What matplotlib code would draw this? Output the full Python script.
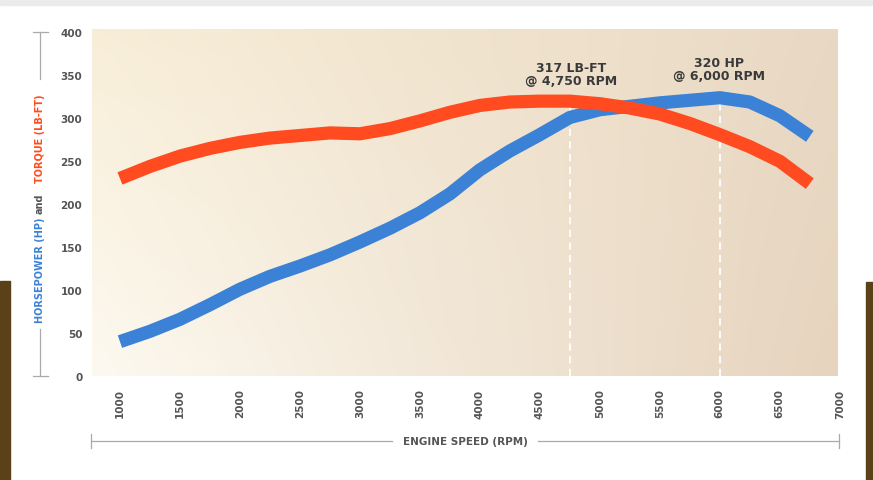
import matplotlib
matplotlib.use("Agg")
import matplotlib.pyplot as plt
import numpy as np
from matplotlib.patches import Rectangle
from matplotlib.lines import Line2D

# engine curve values
rpm = [1000, 1250, 1500, 1750, 2000, 2250, 2500, 2750, 3000, 3250, 3500, 3750,
       4000, 4250, 4500, 4750, 5000, 5250, 5500, 5750, 6000, 6250, 6500, 6750]
horsepower = [40, 52, 66, 83, 101, 116, 128, 141, 156, 172, 190, 212,
              240, 262, 281, 301, 310, 314, 318, 321, 324, 319, 303, 279]
torque = [230, 244, 256, 265, 272, 277, 280, 283, 282, 288, 297, 307,
          315, 319, 320, 320, 317, 312, 305, 294, 281, 267, 250, 224]

x_ticks = [1000, 1500, 2000, 2500, 3000, 3500, 4000, 4500, 5000, 5500, 6000, 6500, 7000]
y_ticks = [0, 50, 100, 150, 200, 250, 300, 350, 400]

peak_torque = (4750, 317, "317 LB-FT\n@ 4,750 RPM")
peak_hp = (6000, 320, "320 HP\n@ 6,000 RPM")

BLUE = "#3b82d6"
RED = "#ff4b1f"
GREY = "#555555"

W, H = 873, 481
fig = plt.figure(figsize=(W / 100, H / 100), dpi=100)
fig.patch.set_facecolor("white")


def fx(px):
    return px / W


def fy(py):
    return 1 - py / H


# photo strips peeking out at the sides, and a faint shadow on top
fig.patches.append(Rectangle((0, 0), fx(10), fy(282), transform=fig.transFigure,
                             color="#5a4119", zorder=0))
fig.patches.append(Rectangle((fx(866), 0), fx(7), fy(283), transform=fig.transFigure,
                             color="#5a4119", zorder=0))
fig.patches.append(Rectangle((0, fy(6)), 1, 6 / H, transform=fig.transFigure,
                             color="#ebebeb", zorder=0))

ax = fig.add_axes([fx(92), fy(377), fx(841 - 92), (377 - 30) / H])
x0, x1 = 767, 7010

# soft cream-to-tan background (row 0 = top)
tl = np.array([0xf8, 0xee, 0xd8]) / 255
bl = np.array([0xfd, 0xf9, 0xf0]) / 255
tr = np.array([0xe9, 0xd9, 0xc4]) / 255
br = np.array([0xe6, 0xd4, 0xbe]) / 255
u = np.linspace(0, 1, 60)[None, :, None]
v = np.linspace(0, 1, 40)[:, None, None]
grad = (1 - v) * ((1 - u) * tl + u * tr) + v * ((1 - u) * bl + u * br)
ax.imshow(grad, extent=(x0, 6983, 0, 404), origin="upper", aspect="auto",
          interpolation="bicubic", zorder=0)
ax.set_xlim(x0, x1)
ax.set_ylim(0, 404)

for s in ax.spines.values():
    s.set_visible(False)

# dashed markers at the peaks
for px, py, _ in (peak_torque, peak_hp):
    ax.plot([px, px], [0, py], color="white", lw=1.3, ls=(0, (4, 3)), zorder=1)

ax.plot(rpm, horsepower, color=BLUE, lw=9.5, solid_capstyle="butt", solid_joinstyle="round", zorder=3)
ax.plot(rpm, torque, color=RED, lw=9.5, solid_capstyle="butt", solid_joinstyle="round", zorder=4)

ax.text(4760, 352, peak_torque[2], ha="center", va="center", fontsize=9, fontweight="bold",
        color="#3a3a3a", linespacing=1.0, zorder=5)
ax.text(5990, 357, peak_hp[2], ha="center", va="center", fontsize=9, fontweight="bold",
        color="#3a3a3a", linespacing=1.0, zorder=5)

ax.set_xticks(x_ticks)
ax.set_xticklabels([str(t) for t in x_ticks], rotation=90, fontsize=7.5,
                   fontweight="bold", color=GREY)
ax.set_yticks(y_ticks)
ax.set_yticklabels([str(t) for t in y_ticks], fontsize=7.5, fontweight="bold", color=GREY)
ax.tick_params(axis="x", length=0, pad=9)
ax.tick_params(axis="y", length=0, pad=7)

# y axis title: bracket line with three coloured pieces of text
lc = "#aaaaaa"
for a, b in ((33, 80), (330, 377)):
    fig.add_artist(Line2D([fx(40), fx(40)], [fy(a), fy(b)], color=lc, lw=0.9))
for yy in (33, 377):
    fig.add_artist(Line2D([fx(33), fx(48)], [fy(yy), fy(yy)], color=lc, lw=0.9))
fig.text(fx(40), fy(270), "HORSEPOWER (HP)", rotation=90, ha="center", va="center",
         fontsize=7, fontweight="bold", color=BLUE)
fig.text(fx(40), fy(204), "and", rotation=90, ha="center", va="center",
         fontsize=7, fontweight="bold", color=GREY)
fig.text(fx(40), fy(139), "TORQUE (LB-FT)", rotation=90, ha="center", va="center",
         fontsize=7, fontweight="bold", color=RED)

# x axis title with bracket
for a, b in ((91, 392), (538, 839)):
    fig.add_artist(Line2D([fx(a), fx(b)], [fy(442), fy(442)], color=lc, lw=0.9))
for xx in (91, 839):
    fig.add_artist(Line2D([fx(xx), fx(xx)], [fy(435), fy(449)], color=lc, lw=0.9))
fig.text(fx(465), fy(442), "ENGINE SPEED (RPM)", ha="center", va="center",
         fontsize=7.5, fontweight="bold", color=GREY)

fig.savefig("out.png", dpi=100)
